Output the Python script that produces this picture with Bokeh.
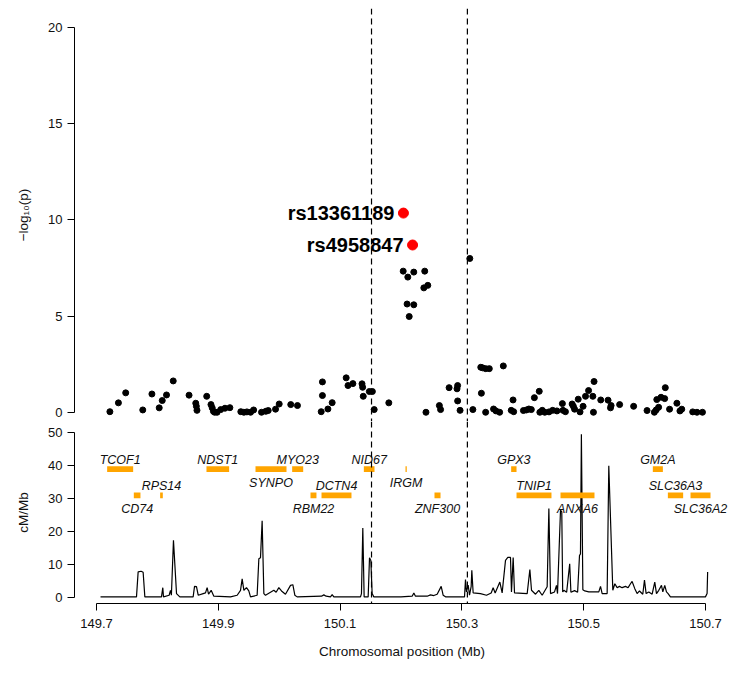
from bokeh.plotting import figure
from bokeh.models import Range1d, FixedTicker, Span, ColumnDataSource
from bokeh.layouts import column
from bokeh.core.properties import value
from bokeh.embed import file_html
from bokeh.resources import INLINE

# ---------------- data ----------------
# association results (position in Mb, -log10 p)
snp_pos = [149.722, 149.736, 149.748, 149.776, 149.791, 149.803, 149.808, 149.815, 149.826,
           149.852, 149.863, 149.864, 149.865, 149.881, 149.888, 149.890, 149.892, 149.894,
           149.898, 149.904, 149.911, 149.919, 149.937, 149.942, 149.947, 149.953, 149.958,
           149.971, 149.978, 149.982, 149.994, 150.000, 150.019, 150.030, 150.069, 150.071,
           150.071, 150.080, 150.087, 150.110, 150.113, 150.121, 150.136, 150.137, 150.138,
           150.148, 150.153, 150.156, 150.180,
           150.2036, 150.2112, 150.221, 150.239, 150.2375, 150.244, 150.210, 150.221, 150.2135,
           150.241, 150.263, 150.265, 150.279, 150.292, 150.293, 150.293, 150.297, 150.313,
           150.318, 150.331, 150.334, 150.339, 150.345, 150.332, 150.368, 150.339, 150.352,
           150.356, 150.362, 150.381, 150.384, 150.385, 150.401, 150.406, 150.410, 150.414,
           150.419, 150.427, 150.428, 150.432, 150.436, 150.443, 150.449, 150.456, 150.465,
           150.466, 150.470, 150.481, 150.483, 150.485, 150.491, 150.494, 150.499, 150.503,
           150.508, 150.515, 150.516, 150.517, 150.528, 150.540, 150.544, 150.545, 150.559,
           150.582, 150.604, 150.616, 150.619, 150.620, 150.623, 150.627, 150.634, 150.633,
           150.641, 150.653, 150.658, 150.661, 150.679, 150.686, 150.695]
snp_logp = [0.03, 0.49, 1.01, 0.12, 0.95, 0.23, 0.61, 0.90, 1.63,
            0.89, 0.47, 0.31, 0.10, 0.83, 0.40, 0.23, 0.05, 0.00,
            0.00, 0.14, 0.21, 0.24, 0.03, 0.00, 0.02, 0.00, 0.12,
            0.00, 0.05, 0.09, 0.16, 0.43, 0.40, 0.35, 0.03, 0.87,
            1.58, 0.17, 0.50, 1.79, 1.39, 1.49, 1.48, 1.30, 0.83,
            1.08, 1.08, 0.14, 0.49,
            7.34, 7.03, 7.29, 7.34, 6.47, 6.60, 5.63, 5.59, 4.98,
            0.00, 0.35, 0.14, 1.28, 1.22, 1.39, 0.59, 0.10, 8.00,
            0.14, 2.34, 2.31, 2.27, 2.27, 0.99, 2.41, 0.00, 0.17,
            0.07, 0.00, 0.10, 0.64, 0.03, 0.09, 0.12, 0.17, 0.14,
            0.76, 1.09, 0.00, 0.10, 0.00, 0.02, 0.10, 0.07, 0.45,
            0.10, 0.03, 0.43, 0.31, 0.16, 0.68, 0.02, 0.31, 0.83,
            1.13, 0.83, 0.00, 1.60, 0.64, 0.63, 0.23, 0.35, 0.40,
            0.31, 0.09, 0.00, 0.12, 0.66, 0.26, 0.78, 1.28, 0.71,
            0.16, 0.47, 0.07, 0.16, 0.02, 0.00, 0.00]

# highlighted SNPs
top_snp_names = ["rs13361189", "rs4958847"]
top_snp_pos = [150.204, 150.219]
top_snp_logp = [10.36, 8.70]

# region boundaries (dashed lines)
region_bounds = [150.1516, 150.309]

# recombination rate (cM/Mb)
rec_pos = [149.7066, 149.7657, 149.7684, 149.7733, 149.7766, 149.7794, 149.8067, 149.8089,
           149.8100, 149.8193, 149.8215, 149.8230, 149.8264, 149.8314, 149.8368, 149.8587,
           149.8610, 149.8642, 149.8670, 149.8752, 149.8790, 149.8817, 149.8840, 149.8883,
           149.8927, 149.9200, 149.9310, 149.9365, 149.9392, 149.9420, 149.9463, 149.9501,
           149.9529, 149.9638, 149.9666, 149.9693, 149.9720, 149.9748, 149.9775, 149.9912,
           149.9950, 149.9994, 150.0038, 150.0103, 150.0186, 150.0224, 150.0257, 150.0295,
           150.0695, 150.0733, 150.0771, 150.0842, 150.0870, 150.0897, 150.1335, 150.1351,
           150.1373, 150.1395, 150.1461, 150.1483, 150.1505, 150.1526, 150.1554, 150.2000,
           150.2183, 150.2211, 150.2238, 150.2430, 150.2484, 150.2539, 150.2594, 150.2660,
           150.2692, 150.2731, 150.3043, 150.3059, 150.3075, 150.3103, 150.3125, 150.3152,
           150.3163, 150.3185, 150.3305, 150.3404, 150.3481, 150.3513, 150.3546, 150.3623,
           150.3661, 150.3716, 150.3754, 150.3798, 150.3814, 150.3842, 150.3864, 150.4072,
           150.4116, 150.4143, 150.4209, 150.4263, 150.4318, 150.4400, 150.4428, 150.4455,
           150.4521, 150.4553, 150.4570, 150.4619, 150.4640, 150.4655, 150.4674, 150.4720,
           150.4770, 150.4790, 150.4850, 150.4900, 150.4931, 150.4947, 150.4962, 150.4986,
           150.5018, 150.5084, 150.5248, 150.5276, 150.5303, 150.5385, 150.5412, 150.5478,
           150.5511, 150.5549, 150.5587, 150.5631, 150.5686, 150.5729, 150.5768, 150.5795,
           150.5839, 150.5877, 150.5916, 150.5970, 150.5998, 150.6025, 150.6069, 150.6124,
           150.6167, 150.6195, 150.6233, 150.6277, 150.6299, 150.6331, 150.6359, 150.6386,
           150.6424, 150.6999, 150.7026, 150.7035]
rec_rate = [0.1, 0.1, 7.7, 7.9, 7.6, 0.1, 0.1, 2.9,
            0.1, 0.6, 2.1, 0.6, 17.3, 1.1, 0.1, 0.1,
            3.3, 3.2, 0.6, 1.1, 1.3, 2.9, 0.9, 2.1,
            0.3, 0.1, 0.6, 2.1, 5.6, 2.1, 2.9, 1.9,
            0.1, 0.6, 11.7, 12.0, 23.3, 1.1, 0.6, 2.1,
            1.5, 2.9, 1.9, 0.9, 3.6, 3.8, 0.6, 0.1,
            0.3, 0.7, 0.3, 0.1, 0.8, 0.1, 0.1, 1.1,
            21.1, 0.1, 0.1, 12.0, 11.2, 1.1, 0.1, 0.1,
            0.3, 1.3, 0.3, 0.3, 0.7, 0.5, 0.9, 3.3,
            0.6, 0.1, 0.1, 5.4, 1.6, 3.7, 0.6, 3.2,
            8.2, 1.3, 1.1, 0.6, 1.3, 2.9, 1.3, 4.6,
            1.3, 11.2, 12.1, 12.1, 1.6, 12.1, 1.3, 1.1,
            8.4, 2.1, 0.9, 2.1, 0.6, 3.2, 27.0, 1.1,
            1.6, 3.6, 1.1, 26.5, 26.0, 1.6, 2.1, 1.5,
            10.2, 1.5, 2.0, 1.5, 12.7, 13.2, 49.6, 2.3,
            1.9, 1.6, 1.6, 3.3, 1.1, 1.1, 40.0, 2.1,
            4.1, 2.9, 3.3, 2.9, 3.3, 2.9, 4.1, 4.8,
            2.6, 1.1, 1.9, 0.9, 5.2, 1.1, 1.6, 0.9,
            4.6, 1.1, 2.1, 3.6, 1.6, 3.6, 1.6, 1.1,
            0.1, 0.1, 1.1, 7.7]

# genes
gene_names = ["TCOF1", "CD74", "RPS14", "NDST1", "SYNPO", "MYO23", "RBM22", "DCTN4", "NID67",
              "IRGM", "ZNF300", "GPX3", "TNIP1", "ANXA6", "GM2A", "SLC36A3", "SLC36A2"]
gene_start = [149.7175, 149.7613, 149.8045, 149.8806, 149.9611, 150.0213, 150.0514, 150.0695,
              150.1390, 150.2074, 150.2550, 150.3809, 150.3897, 150.4619, 150.6135, 150.6382,
              150.6754]
gene_end = [149.7602, 149.7722, 149.8089, 149.9178, 150.0120, 150.0394, 150.0612, 150.1187,
            150.1565, 150.2095, 150.2649, 150.3897, 150.4471, 150.5177, 150.6300, 150.6633,
            150.7082]
gene_row = [1, 2, 2, 1, 1, 1, 2, 2, 1, 1, 2, 1, 2, 2, 1, 2, 2]
gene_label_side = ["above", "below", "above", "above", "below", "above", "below", "above",
                   "above", "below", "below", "above", "above", "below", "above", "above",
                   "below"]

x_ticks = [149.7, 149.9, 150.1, 150.3, 150.5, 150.7]
p_ticks = [0, 5, 10, 15, 20]
r_ticks = [0, 10, 20, 30, 40, 50]

# ---------------- styling helpers ----------------
FONT = "Liberation Sans"
row_y = {1: 39.0, 2: 31.0}
half_h = 0.9
label_above = 2.9
label_below = -4.2

x_range = Range1d(149.6639, 150.7394)


def style_yaxis(ax, ticks, label):
    ax.ticker = FixedTicker(ticks=ticks)
    ax.bounds = (ticks[0], ticks[-1])
    ax.axis_label = label
    ax.axis_label_text_font = FONT
    ax.axis_label_text_font_style = "normal"
    ax.axis_label_text_font_size = "13.5px"
    ax.axis_label_text_color = "#111111"
    ax.axis_label_standoff = 14
    ax.major_label_text_font = FONT
    ax.major_label_text_font_size = "13px"
    ax.major_label_text_color = "#111111"
    ax.major_label_standoff = 5
    ax.major_tick_out = 7
    ax.major_tick_in = 0
    ax.minor_tick_line_color = None
    ax.axis_line_color = "black"
    ax.major_tick_line_color = "black"


# ---------------- top panel ----------------
p1 = figure(width=737, height=421, x_range=x_range, y_range=Range1d(-0.48, 21.0),
            output_backend="svg", toolbar_location=None, x_axis_location=None,
            min_border_left=74, min_border_right=8, min_border_top=8, min_border_bottom=0)
p1.outline_line_color = None
p1.grid.visible = False
style_yaxis(p1.yaxis[0], p_ticks, "\u2212log\u2081\u2080(p)")

for xb in region_bounds:
    p1.add_layout(Span(location=xb, dimension="height", line_color="black",
                       line_width=1.2, line_dash="6 4"))

p1.scatter(snp_pos, snp_logp, size=6, color="black")

top_src = ColumnDataSource(dict(x=top_snp_pos, y=top_snp_logp, name=top_snp_names))
p1.scatter("x", "y", source=top_src, size=10, color="#FF0000")
p1.text("x", "y", text="name", source=top_src, x_offset=-9,
        text_align="right", text_baseline="middle",
        text_font=value(FONT), text_font_style="bold", text_font_size="20px",
        text_color="black")

# ---------------- bottom panel ----------------
p2 = figure(width=737, height=247, x_range=x_range, y_range=Range1d(-1.92, 53.5),
            output_backend="svg", toolbar_location=None,
            min_border_left=74, min_border_right=8, min_border_top=0, min_border_bottom=65)
p2.outline_line_color = None
p2.grid.visible = False
style_yaxis(p2.yaxis[0], r_ticks, "cM/Mb")

xa = p2.xaxis[0]
xa.ticker = FixedTicker(ticks=x_ticks)
xa.bounds = (x_ticks[0], x_ticks[-1])
xa.axis_label = "Chromosomal position (Mb)"
xa.axis_label_text_font = FONT
xa.axis_label_text_font_style = "normal"
xa.axis_label_text_font_size = "13.5px"
xa.axis_label_text_color = "#111111"
xa.axis_label_standoff = 13
xa.major_label_text_font = FONT
xa.major_label_text_font_size = "13px"
xa.major_label_text_color = "#111111"
xa.major_label_standoff = 8
xa.major_tick_out = 7
xa.major_tick_in = 0
xa.minor_tick_line_color = None
xa.axis_line_color = "black"

for xb in region_bounds:
    p2.add_layout(Span(location=xb, dimension="height", line_color="black",
                       line_width=1.2, line_dash="6 4"))

p2.line(rec_pos, rec_rate, line_color="black", line_width=1.2)

gy = [row_y[r] for r in gene_row]
gene_src = ColumnDataSource(dict(
    left=gene_start, right=gene_end,
    bottom=[y - half_h for y in gy], top=[y + half_h for y in gy],
    xc=[(a + b) / 2 for a, b in zip(gene_start, gene_end)],
    ly=[y + (label_above if s == "above" else label_below)
        for y, s in zip(gy, gene_label_side)],
    name=gene_names))
p2.quad(left="left", right="right", bottom="bottom", top="top", source=gene_src,
        fill_color="#FFA500", line_color=None)
p2.text("xc", "ly", text="name", source=gene_src, text_align="center",
        text_baseline="alphabetic", text_font=value(FONT), text_font_style="italic",
        text_font_size="12.5px", text_color="#111111")

layout = column(p1, p2, spacing=0)
open("out.html", "w").write(file_html(layout, INLINE))
